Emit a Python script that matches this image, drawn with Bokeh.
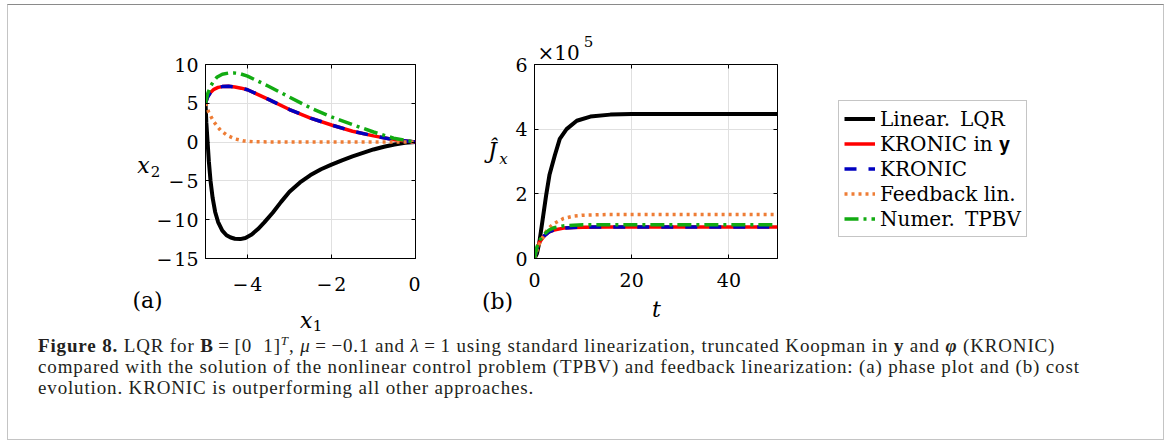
from bokeh.plotting import figure
from bokeh.models import (Range1d, FixedTicker, LinearAxis, Label, Legend, LegendItem, Div)
from bokeh.layouts import row, column
from bokeh.embed import file_html
from bokeh.resources import INLINE

# ---------------- data ----------------
# (a) phase plot: x1 vs x2
lqr_x1 = [-5.0, -4.98, -4.95, -4.92, -4.88, -4.83, -4.77, -4.7, -4.6, -4.5, -4.4, -4.3, -4.17, -4.05,
          -3.9, -3.75, -3.6, -3.4, -3.2, -3.0, -2.75, -2.5, -2.25, -2.0, -1.75, -1.5, -1.25, -1.0,
          -0.75, -0.5, -0.25, 0.0]
lqr_x2 = [5.0, 2.5, 0.0, -2.5, -5.0, -7.2, -9.0, -10.3, -11.4, -12.0, -12.3, -12.45, -12.5, -12.35,
          -11.9, -11.2, -10.35, -9.1, -7.7, -6.4, -5.2, -4.25, -3.5, -2.9, -2.35, -1.85, -1.4, -0.95,
          -0.6, -0.32, -0.1, 0.0]

kry_x1 = [-5.0, -4.95, -4.88, -4.8, -4.7, -4.6, -4.45, -4.3, -4.15, -4.0, -3.5, -3.0, -2.5, -2.0, -1.5, -1.0, -0.5, 0.0]
kry_x2 = [5.0, 5.8, 6.4, 6.8, 7.05, 7.15, 7.2, 7.1, 6.95, 6.75, 5.5, 4.2, 3.1, 2.2, 1.4, 0.8, 0.3, 0.0]

kr_x1 = [-5.0, -4.95, -4.88, -4.8, -4.7, -4.6, -4.45, -4.3, -4.15, -4.0, -3.5, -3.0, -2.5, -2.0, -1.5, -1.0, -0.5, 0.0]
kr_x2 = [5.0, 5.8, 6.4, 6.8, 7.05, 7.15, 7.2, 7.1, 6.95, 6.75, 5.5, 4.2, 3.1, 2.2, 1.4, 0.8, 0.3, 0.0]

fl_x1 = [-5.0, -4.92, -4.8, -4.64, -4.48, -4.29, -4.09, -3.85, -3.5, -3.0, -2.0, -1.0, 0.0]
fl_x2 = [5.0, 3.8, 2.6, 1.5, 0.85, 0.4, 0.15, 0.05, 0.02, 0.0, 0.0, 0.0, 0.0]

tp_x1 = [-5.0, -4.95, -4.88, -4.8, -4.72, -4.6, -4.45, -4.33, -4.2, -4.0, -3.5, -3.0, -2.46, -2.0, -1.47, -1.0, -0.52, 0.0]
tp_x2 = [5.0, 6.2, 7.2, 7.9, 8.4, 8.75, 8.9, 8.92, 8.85, 8.5, 7.2, 5.8, 4.3, 3.25, 2.2, 1.3, 0.5, 0.0]

# (b) cost evolution
t_lqr = [0, 0.5, 1.0, 1.7, 2.4, 3.1, 4.2, 5.2, 6.6, 8.7, 11.5, 15.6, 20, 30, 40, 50]
J_lqr = [0, 15000, 50000, 123000, 196000, 260000, 320000, 370000, 400000, 426000, 439000, 445000,
         447000, 447000, 447000, 447000]

t_oth = [0, 0.5, 1, 2, 3, 4, 6, 8, 10, 15, 20, 30, 40, 50]
J_kry = [0, 30000, 50000, 70000, 82000, 88000, 94000, 96000, 97000, 97500, 97500, 97500, 97500, 97500]
J_kr = [0, 30000, 50000, 70000, 82000, 88000, 94000, 96000, 97000, 97500, 97500, 97500, 97500, 97500]
J_fl = [0, 25000, 45000, 75000, 95000, 108000, 124000, 131000, 134000, 136000, 136000, 136000, 136000, 136000]
J_tp = [0, 35000, 55000, 75000, 88000, 95000, 101000, 103000, 104000, 104500, 104500, 104500, 104500, 104500]

labels = ["Linear.\u2002LQR", "KRONIC in \U0001D432", "KRONIC", "Feedback lin.", "Numer.\u2002TPBV"]

xa_ticks = [-4, -2, 0]
ya_ticks = [-15, -10, -5, 0, 5, 10]
xb_ticks = [0, 20, 40]
yb_ticks = [0, 200000, 400000, 600000]
yb_tick_text = ["0", "2", "4", "6"]

# ---------------- style ----------------
FONT = "DejaVu Serif"
C_LQR, C_KRY, C_KR, C_FL, C_TP = "black", "#ff0000", "#0000c0", "#ee7d36", "#12ab12"
LW = 3.5
STYLES = [dict(line_color=C_LQR, line_width=4),
          dict(line_color=C_KRY, line_width=LW),
          dict(line_color=C_KR, line_width=LW, line_dash="12 12", line_cap="butt"),
          dict(line_color=C_FL, line_width=LW, line_dash="3 4", line_cap="butt"),
          dict(line_color=C_TP, line_width=LW, line_dash="14 5 3 5", line_cap="butt")]
B_TOP, B_BOTTOM, H = 59, 77, 330


def minus(v):
    s = f"{v:g}"
    return s.replace("-", "\u2212\u200a")


def style_axes(p, xt, yt, ylab=None):
    p.xaxis.ticker = FixedTicker(ticks=xt)
    p.yaxis.ticker = FixedTicker(ticks=yt)
    p.xaxis.major_label_overrides = {v: minus(v) for v in xt}
    if ylab is None:
        p.yaxis.major_label_overrides = {v: minus(v) for v in yt}
    else:
        p.yaxis.major_label_overrides = {v: s for v, s in zip(yt, ylab)}
    for ax in (p.xaxis[0], p.yaxis[0]):
        ax.major_label_text_font = FONT
        ax.major_label_text_font_size = "19px"
        ax.major_label_text_color = "black"
        ax.major_tick_in = 4
        ax.major_tick_out = 0
        ax.minor_tick_line_color = None
        ax.axis_line_color = "black"
        ax.major_tick_line_color = "black"
    p.xaxis.major_label_standoff = 14
    p.yaxis.major_label_standoff = 7
    # inner ticks on top and right (box on)
    top = LinearAxis(ticker=FixedTicker(ticks=xt), major_label_overrides={v: "" for v in xt},
                     major_tick_in=4, major_tick_out=0, minor_tick_line_color=None,
                     major_label_standoff=0, axis_line_color=None, major_tick_line_color="black")
    right = LinearAxis(ticker=FixedTicker(ticks=yt), major_label_overrides={v: "" for v in yt},
                       major_tick_in=4, major_tick_out=0, minor_tick_line_color=None,
                       major_label_standoff=0, axis_line_color=None, major_tick_line_color="black")
    p.add_layout(top, "above")
    p.add_layout(right, "right")
    p.xgrid.ticker = FixedTicker(ticks=xt)
    p.ygrid.ticker = FixedTicker(ticks=yt)
    p.grid.grid_line_color = "#e0e0e0"
    p.grid.grid_line_width = 1
    p.outline_line_color = "black"
    p.outline_line_width = 1
    p.background_fill_color = "white"
    p.border_fill_color = "white"


def lab(p, side, x, y, text, size="22px", style="normal"):
    p.add_layout(Label(x=x, y=y, text=text, text_font=FONT, text_font_size=size,
                       text_font_style=style, text_align="center", text_baseline="middle",
                       text_color="black"), side)


# ---------------- (a) ----------------
pa = figure(width=412, height=H, output_backend="svg", toolbar_location=None,
            x_range=Range1d(-5, 0), y_range=Range1d(-15, 10),
            min_border_left=197, min_border_right=5, min_border_top=B_TOP, min_border_bottom=B_BOTTOM)
style_axes(pa, xa_ticks, ya_ticks)
for (xs, ys), st in zip([(lqr_x1, lqr_x2), (kry_x1, kry_x2), (kr_x1, kr_x2), (fl_x1, fl_x2), (tp_x1, tp_x2)], STYLES):
    pa.line(xs, ys, **st)
lab(pa, "left", -6.48, -3.0, "x", style="italic")
lab(pa, "left", -6.19, -3.8, "2", size="15px")
lab(pa, "left", -6.38, -20.4, "(a)")
lab(pa, "left", -2.6, -23.0, "x", style="italic")
lab(pa, "left", -2.33, -23.6, "1", size="15px")

# ---------------- (b) ----------------
pb = figure(width=367, height=H, output_backend="svg", toolbar_location=None,
            x_range=Range1d(0, 50), y_range=Range1d(0, 600000),
            min_border_left=114, min_border_right=10, min_border_top=B_TOP, min_border_bottom=B_BOTTOM)
style_axes(pb, xb_ticks, yb_ticks, yb_tick_text)
series_b = [(t_lqr, J_lqr), (t_oth, J_kry), (t_oth, J_kr), (t_oth, J_fl), (t_oth, J_tp)]
for (xs, ys), st in zip(series_b, STYLES):
    pb.line(xs, ys, **st)
lab(pb, "left", -8.64, 334000, "\u0134", style="italic")
lab(pb, "left", -6.38, 309000, "x", size="15px", style="italic")
lab(pb, "left", -7.6, -133000, "(b)")
lab(pb, "below", 25.1, -158000, "t", style="italic")
lab(pb, "above", 4.94, 637000, "\u00d710", size="20px")
lab(pb, "above", 11.1, 672000, "5", size="15px")

# ---------------- legend panel ----------------
# same series drawn outside this panel's visible range; only the legend shows
pc = figure(width=376, height=H, output_backend="svg", toolbar_location=None,
            x_axis_type=None, y_axis_type=None, x_range=Range1d(1000, 1001), y_range=Range1d(0, 1),
            min_border_left=10, min_border_right=10, min_border_top=B_TOP, min_border_bottom=B_BOTTOM)
pc.outline_line_color = None
pc.background_fill_color = "white"
pc.border_fill_color = "white"
legend_renderers = [pc.line(xs, ys, **st) for (xs, ys), st in zip(series_b, STYLES)]
legend = Legend(items=[LegendItem(label=l, renderers=[r]) for l, r in zip(labels, legend_renderers)],
                location=(41, 21), margin=0, padding=5, spacing=0,
                label_height=25, glyph_height=25, glyph_width=31, label_standoff=5,
                label_text_font=FONT, label_text_font_size="20px", label_text_color="black",
                border_line_color="#8c8c8c", border_line_width=1, background_fill_color="white",
                background_fill_alpha=1)
pc.add_layout(legend, "center")

caption = Div(width=1155, height=104, margin=0, text=(
    '<div style="font-family:\'Liberation Serif\';font-size:19px;line-height:21px;letter-spacing:0.85px;'
    'white-space:nowrap;padding-left:30px;padding-top:0px;color:#231f20">'
    '<b>Figure 8.</b> LQR for <b>B</b>&#8201;=&#8201;[0&nbsp;&nbsp;1]<sup style="line-height:0;font-size:13px"><i>T</i></sup>, '
    '<i>&mu;</i>&#8201;=&#8201;&minus;0.1 and <i>&lambda;</i>&#8201;=&#8201;1 using standard linearization, '
    'truncated Koopman in <b>y</b> and <b><i>&phi;</i></b> (KRONIC)<br>'
    'compared with the solution of the nonlinear control problem (TPBV) and feedback linearization: '
    '(a) phase plot and (b) cost<br>'
    'evolution. KRONIC is outperforming all other approaches.</div>'))

layout = column(row(pa, pb, pc), caption, margin=(4, 0, 0, 7),
                styles={"border": "1px solid #c4c4c4", "border-top-color": "#8a8a8a"})

open("out.html", "w").write(file_html(layout, INLINE))
